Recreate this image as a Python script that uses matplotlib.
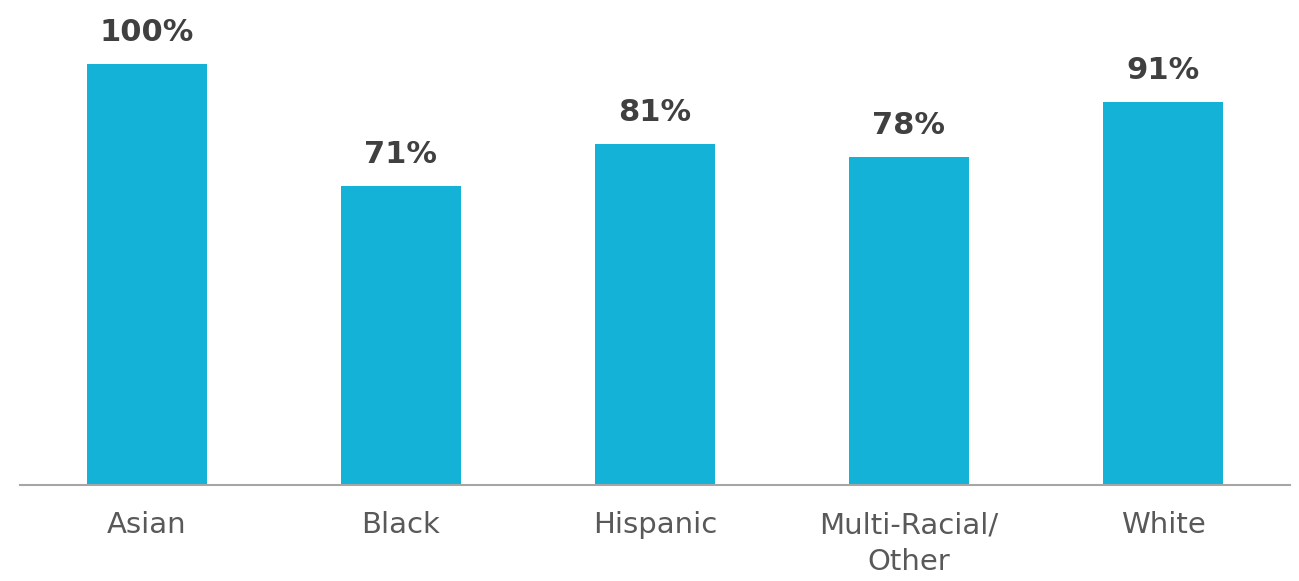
import matplotlib
matplotlib.use("Agg")
import matplotlib.pyplot as plt

categories = ["Asian", "Black", "Hispanic", "Multi-Racial/\nOther", "White"]
values = [100, 71, 81, 78, 91]
value_labels = ["100%", "71%", "81%", "78%", "91%"]

fig = plt.figure(figsize=(12.99, 5.81), dpi=100)
ax = fig.add_axes([20/1299, 1-485/581, 1270/1299, (485-64)/581])
x = list(range(len(categories)))
ax.bar(x, values, width=0.472, color="#14B2D6")
ax.set_xlim(-0.5, 4.5)
ax.set_ylim(0, 100)
for xi, v, lab in zip(x, values, value_labels):
    ax.text(xi, v + 4, lab, ha="center", va="bottom", fontsize=22, fontweight="bold",
            color="#404040", family="DejaVu Sans", clip_on=False)
for s in ["top", "right", "left"]:
    ax.spines[s].set_visible(False)
ax.spines["bottom"].set_color("#A6A6A6")
ax.spines["bottom"].set_linewidth(1.5)
ax.set_yticks([])
ax.set_xticks(x)
ax.set_xticklabels(categories, fontsize=21, color="#595959", family="DejaVu Sans",
                   linespacing=1.4)
ax.tick_params(axis="x", length=0, pad=19)
fig.savefig("out.png", dpi=100)
